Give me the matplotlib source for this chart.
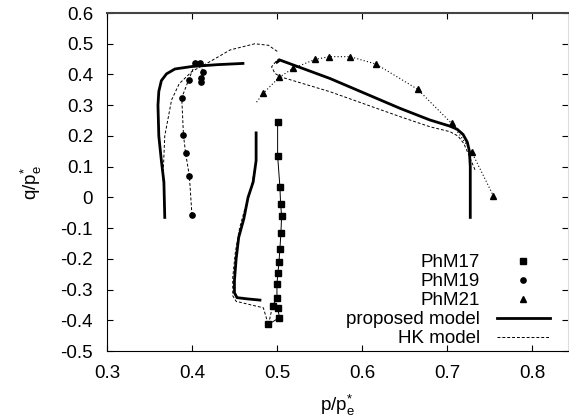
import matplotlib
matplotlib.use("Agg")
import matplotlib.pyplot as plt

plt.rcParams['font.family'] = ['Liberation Sans', 'DejaVu Sans']
plt.rcParams['mathtext.fontset'] = 'custom'
plt.rcParams['mathtext.rm'] = 'Liberation Sans'
plt.rcParams['mathtext.it'] = 'Liberation Sans'

# test data (p/pe*, q/pe*)
phm17_p = [0.5008, 0.5008, 0.5035, 0.5043, 0.5055, 0.5047, 0.5035, 0.5024, 0.5012, 0.500, 0.500, 0.495, 0.501, 0.503, 0.490]
phm17_q = [0.246, 0.136, 0.034, -0.021, -0.060, -0.115, -0.167, -0.210, -0.245, -0.281, -0.326, -0.353, -0.361, -0.391, -0.413]

phm19_p = [0.400, 0.397, 0.3925, 0.390, 0.388, 0.396, 0.404, 0.409, 0.413, 0.411, 0.411]
phm19_q = [-0.057, 0.069, 0.145, 0.203, 0.324, 0.382, 0.436, 0.438, 0.409, 0.390, 0.376]

phm21_p = [0.476, 0.484, 0.5027, 0.519, 0.5447, 0.5616, 0.586, 0.6165, 0.6655, 0.7055, 0.729, 0.7545]
phm21_q = [0.310, 0.339, 0.391, 0.420, 0.449, 0.458, 0.458, 0.434, 0.352, 0.241, 0.149, 0.006]

# proposed model
prop17_p = [0.4755, 0.4755, 0.472, 0.466, 0.461, 0.455, 0.452, 0.450, 0.450, 0.453, 0.465, 0.480]
prop17_q = [0.210, 0.120, 0.050, 0.000, -0.070, -0.130, -0.200, -0.270, -0.310, -0.326, -0.330, -0.334]
prop19_p = [0.368, 0.367, 0.364, 0.361, 0.360, 0.361, 0.364, 0.370, 0.380, 0.400, 0.430, 0.460]
prop19_q = [-0.065, 0.050, 0.120, 0.200, 0.300, 0.345, 0.380, 0.402, 0.418, 0.426, 0.432, 0.436]
prop21_p = [0.500, 0.5035, 0.5624, 0.6447, 0.680, 0.7035, 0.712, 0.719, 0.724, 0.7265, 0.7275, 0.7275]
prop21_q = [0.440, 0.447, 0.387, 0.290, 0.252, 0.232, 0.222, 0.205, 0.180, 0.150, 0.100, -0.065]

# HK model
hk17_p = [0.474, 0.470, 0.463, 0.456, 0.451, 0.448, 0.448, 0.452, 0.470, 0.484, 0.490, 0.495]
hk17_q = [0.100, 0.030, -0.030, -0.100, -0.180, -0.260, -0.320, -0.338, -0.350, -0.359, -0.415, -0.350]
hk19_p = [0.368, 0.366, 0.368, 0.376, 0.385, 0.400, 0.420, 0.445, 0.474, 0.490, 0.502]
hk19_q = [-0.060, 0.070, 0.200, 0.317, 0.370, 0.410, 0.440, 0.480, 0.500, 0.495, 0.472]
hk21_p = [0.503, 0.4996, 0.4937, 0.4976, 0.5035, 0.5624, 0.6447, 0.680, 0.7035, 0.713, 0.720, 0.727, 0.733]
hk21_q = [0.452, 0.445, 0.425, 0.404, 0.393, 0.344, 0.263, 0.230, 0.214, 0.200, 0.175, 0.130, 0.090]

fig = plt.figure(figsize=(5.69, 4.2), dpi=100)
ax = fig.add_axes([0.188, 0.164, 0.811, 0.805])

ax.plot(phm17_p, phm17_q, color='black', lw=0.7, marker='s', ms=4.3)
ax.plot(phm19_p, phm19_q, color='black', lw=0.7, ls=(0, (3, 2)), marker='o', ms=3.8)
ax.plot(phm21_p, phm21_q, color='black', lw=0.8, ls=(0, (1, 2)), marker='^', ms=5,
        markevery=list(range(1, len(phm21_p))))

for px, qy in [(prop17_p, prop17_q), (prop19_p, prop19_q), (prop21_p, prop21_q)]:
    ax.plot(px, qy, color='black', lw=2)
for px, qy in [(hk17_p, hk17_q), (hk19_p, hk19_q), (hk21_p, hk21_q)]:
    ax.plot(px, qy, color='black', lw=0.7, ls=(0, (3, 2)))

# legend handles
l17 = plt.Line2D([], [], color='black', ls='none', marker='s', ms=4.3)
l19 = plt.Line2D([], [], color='black', ls='none', marker='o', ms=3.8)
l21 = plt.Line2D([], [], color='black', ls='none', marker='^', ms=5)
lp = plt.Line2D([], [], color='black', lw=2)
lh = plt.Line2D([], [], color='black', lw=0.7, ls=(0, (3, 2)))
leg = ax.legend([l17, l19, l21, lp, lh], ['PhM17', 'PhM19', 'PhM21', 'proposed model', 'HK model'],
                loc='lower right', bbox_to_anchor=(0.96, 0.012), frameon=False, markerfirst=False,
                handlelength=2.83, labelspacing=0.1, handletextpad=0.9, borderpad=0,
                borderaxespad=0, fontsize=13.5)
for t in leg.get_texts():
    t.set_ha('right')
leg._legend_box.align = 'right'

ax.set_xlim(0.3, 0.843)
ax.set_ylim(-0.5, 0.6)
ax.set_xticks([0.3, 0.4, 0.5, 0.6, 0.7, 0.8])
ax.set_xticklabels(['0.3', '0.4', '0.5', '0.6', '0.7', '0.8'])
ax.set_yticks([0.6, 0.5, 0.4, 0.3, 0.2, 0.1, 0, -0.1, -0.2, -0.3, -0.4, -0.5])
ax.set_yticklabels(['0.6', '0.5', '0.4', '0.3', '0.2', '0.1', '0', '-0.1', '-0.2', '-0.3', '-0.4', '-0.5'])
ax.tick_params(direction='in', length=4, width=0.8, labelsize=13.5, top=True, right=True, pad=10)
ax.tick_params(axis='y', pad=10)
ax.spines['top'].set_color('#444444')
ax.spines['top'].set_linewidth(1.5)
ax.spines['right'].set_color('#dddddd')
ax.set_xlabel(r'p/p$_{\rm e}^{*}$', fontsize=13.5, labelpad=8)
ax.set_ylabel(r'q/p$_{\rm e}^{*}$', fontsize=13.5, labelpad=12)

fig.savefig('out.png', dpi=100)
